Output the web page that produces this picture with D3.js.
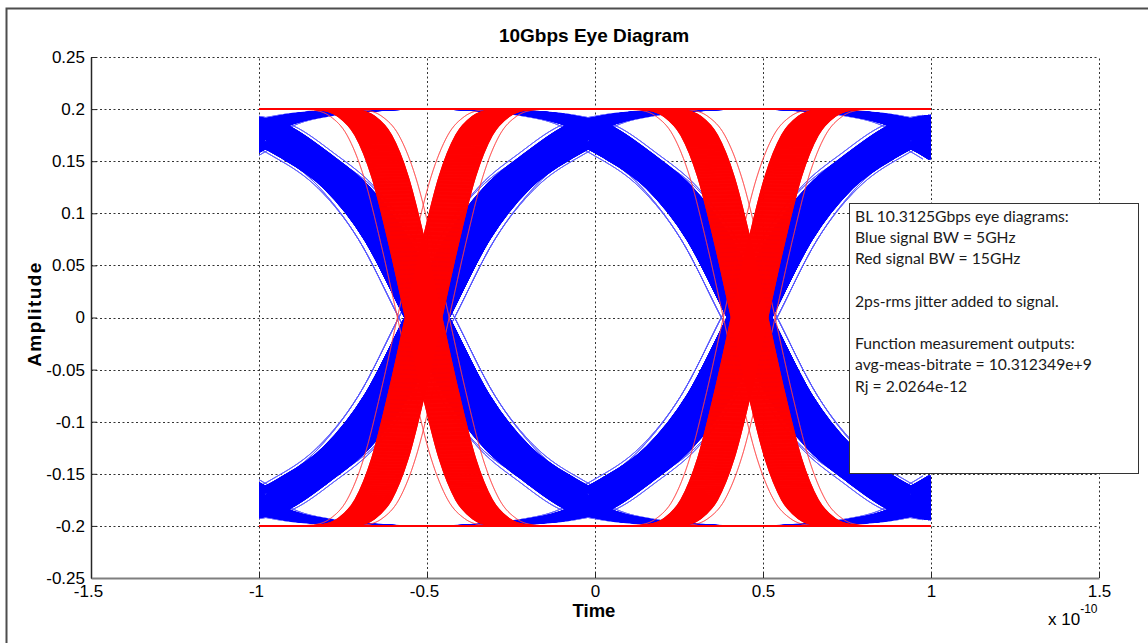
<!DOCTYPE html>
<html>
<head>
<meta charset="utf-8">
<script src="https://cdn.jsdelivr.net/npm/d3@7/dist/d3.min.js"></script>
<style>
html,body{margin:0;padding:0;background:#fff;}
svg{display:block;}
</style>
</head>
<body>
<svg id="chart" width="1148" height="643"></svg>
<script>
// ================= DATA =================
const chartTitle = "10Gbps Eye Diagram";
const xLabel = "Time";
const yLabel = "Amplitude";
const xTicks = [-1.5, -1, -0.5, 0, 0.5, 1, 1.5];
const xTickLabels = ["-1.5", "-1", "-0.5", "0", "0.5", "1", "1.5"];
const yTicks = [-0.25, -0.2, -0.15, -0.1, -0.05, 0, 0.05, 0.1, 0.15, 0.2, 0.25];
const yTickLabels = ["-0.25", "-0.2", "-0.15", "-0.1", "-0.05", "0", "0.05", "0.1", "0.15", "0.2", "0.25"];
const xMultiplier = "x 10";
const xExponent = "-10";

// Blue signal (BW = 5GHz): sample times (x 1e-10 s) and trace amplitudes (V)
const blueTime = [-1.10, -0.98, -0.86, -0.74, -0.62, -0.50, -0.38, -0.26, -0.14, -0.02, 0.10, 0.22, 0.34, 0.46, 0.58, 0.70, 0.82, 0.94, 1.06];
// traces whose middle bit is 1
const blueTracesHigh = [
  [0.2,0.2,0.2,0.2,0.2,0.2,0.2,0.2,0.2,0.2,0.2,0.2,0.2,0.2,0.2,0.2,0.2,0.2,0.2],
  [0.158,0.184,0.194,0.198,0.2,0.2,0.2,0.2,0.2,0.2,0.2,0.2,0.2,0.2,0.2,0.2,0.2,0.2,0.2],
  [0.2,0.2,0.2,0.2,0.2,0.2,0.2,0.2,0.2,0.2,0.2,0.2,0.2,0.2,0.2,0.198,0.194,0.184,0.158],
  [0.158,0.184,0.194,0.198,0.2,0.2,0.2,0.2,0.2,0.2,0.2,0.2,0.2,0.2,0.2,0.198,0.194,0.184,0.158],
  [0.2,0.2,0.2,0.2,0.2,0.2,0.2,0.198,0.194,0.184,0.158,0.126,0.075,0,-0.075,-0.126,-0.158,-0.184,-0.194],
  [0.158,0.184,0.194,0.198,0.2,0.2,0.2,0.198,0.194,0.184,0.158,0.126,0.075,0,-0.075,-0.126,-0.158,-0.184,-0.194],
  [0.2,0.2,0.2,0.2,0.2,0.2,0.2,0.198,0.194,0.184,0.158,0.126,0.075,0,-0.075,-0.124,-0.152,-0.168,-0.152],
  [0.158,0.184,0.194,0.198,0.2,0.2,0.2,0.198,0.194,0.184,0.158,0.126,0.075,0,-0.075,-0.124,-0.152,-0.168,-0.152],
  [-0.194,-0.184,-0.158,-0.126,-0.075,0,0.075,0.126,0.158,0.184,0.194,0.198,0.2,0.2,0.2,0.2,0.2,0.2,0.2],
  [-0.152,-0.168,-0.152,-0.124,-0.075,0,0.075,0.126,0.158,0.184,0.194,0.198,0.2,0.2,0.2,0.2,0.2,0.2,0.2],
  [-0.194,-0.184,-0.158,-0.126,-0.075,0,0.075,0.126,0.158,0.184,0.194,0.198,0.2,0.2,0.2,0.198,0.194,0.184,0.158],
  [-0.152,-0.168,-0.152,-0.124,-0.075,0,0.075,0.126,0.158,0.184,0.194,0.198,0.2,0.2,0.2,0.198,0.194,0.184,0.158],
  [-0.194,-0.184,-0.158,-0.126,-0.075,0,0.075,0.124,0.152,0.168,0.152,0.124,0.075,0,-0.075,-0.126,-0.158,-0.184,-0.194],
  [-0.152,-0.168,-0.152,-0.124,-0.075,0,0.075,0.124,0.152,0.168,0.152,0.124,0.075,0,-0.075,-0.126,-0.158,-0.184,-0.194],
  [-0.194,-0.184,-0.158,-0.126,-0.075,0,0.075,0.124,0.152,0.168,0.152,0.124,0.075,0,-0.075,-0.124,-0.152,-0.168,-0.152],
  [-0.152,-0.168,-0.152,-0.124,-0.075,0,0.075,0.124,0.152,0.168,0.152,0.124,0.075,0,-0.075,-0.124,-0.152,-0.168,-0.152]
];
// traces whose middle bit is 0
const blueTracesLow = [
  [-0.2,-0.2,-0.2,-0.2,-0.2,-0.2,-0.2,-0.2,-0.2,-0.2,-0.2,-0.2,-0.2,-0.2,-0.2,-0.2,-0.2,-0.2,-0.2],
  [-0.158,-0.184,-0.194,-0.198,-0.2,-0.2,-0.2,-0.2,-0.2,-0.2,-0.2,-0.2,-0.2,-0.2,-0.2,-0.2,-0.2,-0.2,-0.2],
  [-0.2,-0.2,-0.2,-0.2,-0.2,-0.2,-0.2,-0.2,-0.2,-0.2,-0.2,-0.2,-0.2,-0.2,-0.2,-0.198,-0.194,-0.184,-0.158],
  [-0.158,-0.184,-0.194,-0.198,-0.2,-0.2,-0.2,-0.2,-0.2,-0.2,-0.2,-0.2,-0.2,-0.2,-0.2,-0.198,-0.194,-0.184,-0.158],
  [-0.2,-0.2,-0.2,-0.2,-0.2,-0.2,-0.2,-0.198,-0.194,-0.184,-0.158,-0.126,-0.075,0,0.075,0.126,0.158,0.184,0.194],
  [-0.158,-0.184,-0.194,-0.198,-0.2,-0.2,-0.2,-0.198,-0.194,-0.184,-0.158,-0.126,-0.075,0,0.075,0.126,0.158,0.184,0.194],
  [-0.2,-0.2,-0.2,-0.2,-0.2,-0.2,-0.2,-0.198,-0.194,-0.184,-0.158,-0.126,-0.075,0,0.075,0.124,0.152,0.168,0.152],
  [-0.158,-0.184,-0.194,-0.198,-0.2,-0.2,-0.2,-0.198,-0.194,-0.184,-0.158,-0.126,-0.075,0,0.075,0.124,0.152,0.168,0.152],
  [0.194,0.184,0.158,0.126,0.075,0,-0.075,-0.126,-0.158,-0.184,-0.194,-0.198,-0.2,-0.2,-0.2,-0.2,-0.2,-0.2,-0.2],
  [0.152,0.168,0.152,0.124,0.075,0,-0.075,-0.126,-0.158,-0.184,-0.194,-0.198,-0.2,-0.2,-0.2,-0.2,-0.2,-0.2,-0.2],
  [0.194,0.184,0.158,0.126,0.075,0,-0.075,-0.126,-0.158,-0.184,-0.194,-0.198,-0.2,-0.2,-0.2,-0.198,-0.194,-0.184,-0.158],
  [0.152,0.168,0.152,0.124,0.075,0,-0.075,-0.126,-0.158,-0.184,-0.194,-0.198,-0.2,-0.2,-0.2,-0.198,-0.194,-0.184,-0.158],
  [0.194,0.184,0.158,0.126,0.075,0,-0.075,-0.124,-0.152,-0.168,-0.152,-0.124,-0.075,0,0.075,0.126,0.158,0.184,0.194],
  [0.152,0.168,0.152,0.124,0.075,0,-0.075,-0.124,-0.152,-0.168,-0.152,-0.124,-0.075,0,0.075,0.126,0.158,0.184,0.194],
  [0.194,0.184,0.158,0.126,0.075,0,-0.075,-0.124,-0.152,-0.168,-0.152,-0.124,-0.075,0,0.075,0.124,0.152,0.168,0.152],
  [0.152,0.168,0.152,0.124,0.075,0,-0.075,-0.124,-0.152,-0.168,-0.152,-0.124,-0.075,0,0.075,0.124,0.152,0.168,0.152]
];
// timing jitter of the overlaid blue traces (x 1e-10 s)
const blueJitter = [-0.066,-0.062,-0.058,-0.054,-0.05,-0.046,-0.042,-0.038,-0.034,-0.03,-0.026,-0.022,-0.018,-0.014,-0.01,-0.006,-0.002,0.002,0.006,0.01,0.014,0.018,0.022,0.026,0.03,0.034,0.038,0.042,0.046,0.05,0.054,0.058,0.062,0.066];
const blueOutlierJitter = [-0.084, 0.082];

// Red signal (BW = 15GHz)
const redTime = [-1.1,-0.81,-0.76,-0.71,-0.66,-0.61,-0.56,-0.51,-0.46,-0.41,-0.36,-0.31,-0.26,-0.21,0.16,0.21,0.26,0.31,0.36,0.41,0.46,0.51,0.56,0.61,0.66,0.71,0.76,1.1];
const redTraces = [
  [0.2,0.2,0.2,0.2,0.2,0.2,0.2,0.2,0.2,0.2,0.2,0.2,0.2,0.2,0.2,0.2,0.2,0.2,0.2,0.2,0.2,0.2,0.2,0.2,0.2,0.2,0.2,0.2],
  [-0.2,-0.2,-0.2,-0.2,-0.2,-0.2,-0.2,-0.2,-0.2,-0.2,-0.2,-0.2,-0.2,-0.2,-0.2,-0.2,-0.2,-0.2,-0.2,-0.2,-0.2,-0.2,-0.2,-0.2,-0.2,-0.2,-0.2,-0.2],
  [-0.2,-0.2,-0.199,-0.193,-0.175,-0.135,-0.072,0,0.072,0.135,0.175,0.193,0.199,0.2,0.2,0.2,0.2,0.2,0.2,0.2,0.2,0.2,0.2,0.2,0.2,0.2,0.2,0.2],
  [0.2,0.2,0.199,0.193,0.175,0.135,0.072,0,-0.072,-0.135,-0.175,-0.193,-0.199,-0.2,-0.2,-0.2,-0.2,-0.2,-0.2,-0.2,-0.2,-0.2,-0.2,-0.2,-0.2,-0.2,-0.2,-0.2],
  [0.2,0.2,0.2,0.2,0.2,0.2,0.2,0.2,0.2,0.2,0.2,0.2,0.2,0.2,0.2,0.199,0.193,0.175,0.135,0.072,0,-0.072,-0.135,-0.175,-0.193,-0.199,-0.2,-0.2],
  [-0.2,-0.2,-0.2,-0.2,-0.2,-0.2,-0.2,-0.2,-0.2,-0.2,-0.2,-0.2,-0.2,-0.2,-0.2,-0.199,-0.193,-0.175,-0.135,-0.072,0,0.072,0.135,0.175,0.193,0.199,0.2,0.2],
  [-0.2,-0.2,-0.199,-0.193,-0.175,-0.135,-0.072,0,0.072,0.135,0.175,0.193,0.199,0.2,0.2,0.199,0.193,0.175,0.135,0.072,0,-0.072,-0.135,-0.175,-0.193,-0.199,-0.2,-0.2],
  [0.2,0.2,0.199,0.193,0.175,0.135,0.072,0,-0.072,-0.135,-0.175,-0.193,-0.199,-0.2,-0.2,-0.199,-0.193,-0.175,-0.135,-0.072,0,0.072,0.135,0.175,0.193,0.199,0.2,0.2]
];
const redJitter = [-0.054,-0.051,-0.048,-0.045,-0.042,-0.039,-0.036,-0.033,-0.03,-0.027,-0.024,-0.021,-0.018,-0.015,-0.012,-0.009,-0.006,-0.003,0,0.003,0.006,0.009,0.012,0.015,0.018,0.021,0.024,0.027,0.03,0.033,0.036,0.039,0.042,0.045,0.048,0.051,0.054];
const redOutlierJitter = [-0.078, 0.076];

const noteLines = [
  "BL 10.3125Gbps eye diagrams:",
  "Blue signal BW = 5GHz",
  "Red signal BW = 15GHz",
  "",
  "2ps-rms jitter added to signal.",
  "",
  "Function measurement outputs:",
  "avg-meas-bitrate = 10.312349e+9",
  "Rj = 2.0264e-12"
];

// ================= DRAWING =================
const svg = d3.select("#chart");
const x = d3.scaleLinear().domain([-1.5, 1.5]).range([91, 1099]);
const y = d3.scaleLinear().domain([-0.25, 0.25]).range([578, 57]);
const FONT = "'Liberation Sans', Arial, Helvetica, sans-serif";

svg.append("rect").attr("x", 0).attr("y", 0).attr("width", 1148).attr("height", 643).attr("fill", "#fff");
// figure frame
svg.append("rect").attr("x", 6.5).attr("y", 8.5).attr("width", 1200).attr("height", 700)
  .attr("fill", "none").attr("stroke", "#4d4d4d").attr("stroke-width", 2);

// grid
const grid = svg.append("g").attr("stroke", "#333").attr("stroke-width", 1).attr("stroke-dasharray", "2,2.5");
grid.selectAll(".gx").data(xTicks).join("line").attr("class", "gx")
  .attr("x1", d => Math.round(x(d)) + 0.5).attr("x2", d => Math.round(x(d)) + 0.5)
  .attr("y1", y(-0.25)).attr("y2", y(0.25));
grid.selectAll(".gy").data(yTicks).join("line").attr("class", "gy")
  .attr("y1", d => Math.round(y(d)) + 0.5).attr("y2", d => Math.round(y(d)) + 0.5)
  .attr("x1", x(-1.5)).attr("x2", x(1.5));

// traces
svg.append("defs").append("clipPath").attr("id", "traceClip").append("rect")
  .attr("x", x(-1)).attr("y", y(0.25)).attr("width", x(1) - x(-1)).attr("height", y(-0.25) - y(0.25));
const plot = svg.append("g").attr("clip-path", "url(#traceClip)");

function drawFamily(times, traces, jitter, color, width, opacity) {
  const items = [];
  traces.forEach(tr => jitter.forEach(j => items.push({ tr, j })));
  const g = plot.append("g").attr("fill", "none").attr("stroke", color)
    .attr("stroke-width", width).attr("stroke-opacity", opacity);
  g.selectAll("path").data(items).join("path")
    .attr("d", d => d3.line()
      .x((v, i) => x(times[i] + d.j))
      .y(v => y(v))
      .curve(d3.curveMonotoneX)(d.tr));
}
const blueAll = blueTracesHigh.concat(blueTracesLow);
drawFamily(blueTime, blueAll, blueOutlierJitter, "#5a5aff", 0.8, 0.7);
drawFamily(blueTime, blueAll, blueJitter, "#0000ff", 1.3, 1);
drawFamily(redTime, redTraces, redOutlierJitter, "#ff4040", 0.8, 0.75);
drawFamily(redTime, redTraces, redJitter, "#ff0000", 1.3, 1);

// axes
const yAxis = d3.axisLeft(y).tickValues(yTicks).tickFormat((d, i) => yTickLabels[i])
  .tickSizeInner(-6).tickSizeOuter(0).tickPadding(6);
const gy = svg.append("g").attr("transform", "translate(91,0)").call(yAxis);
gy.select(".domain").attr("stroke", "#262626").attr("stroke-width", 1.5);
gy.selectAll(".tick line").attr("stroke", "#262626");
gy.selectAll(".tick text").attr("font-family", FONT).attr("font-size", 17).attr("fill", "#000");

const xAxis = d3.axisBottom(x).tickValues(xTicks).tickFormat((d, i) => xTickLabels[i])
  .tickSizeInner(-6).tickSizeOuter(0).tickPadding(7);
const gx = svg.append("g").attr("transform", "translate(0,578)").call(xAxis);
gx.select(".domain").attr("stroke", "#7f7f7f").attr("stroke-width", 2);
gx.selectAll(".tick line").attr("stroke", "#262626");
gx.selectAll(".tick text").attr("font-family", FONT).attr("font-size", 17).attr("fill", "#000")
  .attr("dx", d => d < 0 ? -3 : 0);

// titles
svg.append("text").attr("x", 594).attr("y", 42).attr("text-anchor", "middle")
  .attr("font-family", FONT).attr("font-weight", "bold").attr("font-size", 19).text(chartTitle);
svg.append("text").attr("x", 594).attr("y", 617).attr("text-anchor", "middle")
  .attr("font-family", FONT).attr("font-weight", "bold").attr("font-size", 18.5).text(xLabel);
svg.append("text").attr("transform", "translate(41,314) rotate(-90)").attr("text-anchor", "middle")
  .attr("font-family", FONT).attr("font-weight", "bold").attr("font-size", 19)
  .attr("letter-spacing", "1.4px").text(yLabel);

const mult = svg.append("text").attr("x", 1048).attr("y", 625)
  .attr("font-family", FONT).attr("font-size", 17).attr("fill", "#000");
mult.append("tspan").text(xMultiplier);
mult.append("tspan").attr("dy", -12).attr("font-size", 12).text(xExponent);

// annotation box
const note = svg.append("g");
note.append("rect").attr("x", 849.5).attr("y", 203.5).attr("width", 289).attr("height", 270)
  .attr("fill", "#fff").attr("stroke", "#333").attr("stroke-width", 1);
const noteText = note.append("text").attr("font-family", "Lato, 'Open Sans', sans-serif")
  .attr("font-size", 16).attr("fill", "#1a1a1a");
noteLines.forEach((t, i) => {
  noteText.append("tspan").attr("x", 855).attr("y", 222 + 21.2 * i).text(t);
});
const w0 = noteText.select("tspan").node().getComputedTextLength();
if (w0 > 0) noteText.attr("font-size", 16 * 214 / w0);
</script>
</body>
</html>
